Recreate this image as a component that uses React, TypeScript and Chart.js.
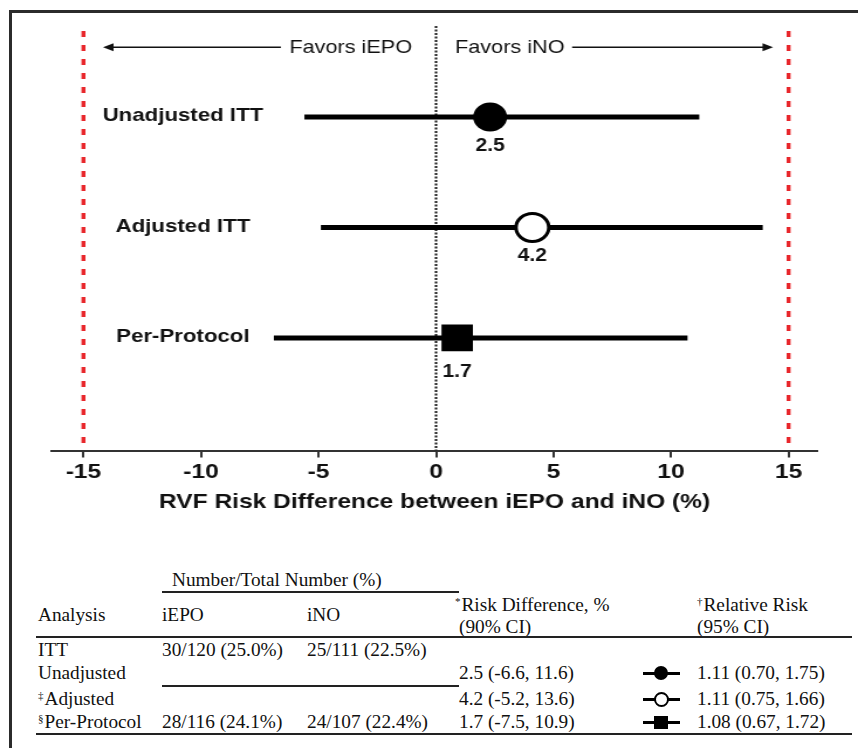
import React, { useEffect, useRef } from "react";
import { Chart, registerables } from "chart.js";

Chart.register(...registerables);

// ---------- chart data ----------
const rowLabels = ["Unadjusted ITT", "Adjusted ITT", "Per-Protocol"];
const rowPositions = [1, 2, 3];
const pointEstimates = [2.3, 4.1, 0.9];
const ciLower = [-5.6, -4.9, -6.9];
const ciUpper = [11.2, 13.9, 10.7];
const estimateLabels = ["2.5", "4.2", "1.7"];
const xTicks = [-15, -10, -5, 0, 5, 10, 15];
const marginLines = [-15, 15];
const nullLine = 0;
const favorsLeft = "Favors iEPO";
const favorsRight = "Favors iNO";
const xTitle = "RVF Risk Difference between iEPO and iNO (%)";

// ---------- table data ----------
const tableGroupHeader = "Number/Total Number (%)";
const tableHeaders = ["Analysis", "iEPO", "iNO"];
const riskDiffHeader = ["Risk Difference, %", "(90% CI)"];
const relRiskHeader = ["Relative Risk", "(95% CI)"];
const analysisNames = ["ITT", "Unadjusted", "Adjusted", "Per-Protocol"];
const analysisMarks = ["", "", "\u2021", "\u00a7"];
const iepoCounts = ["30/120 (25.0%)", "", "", "28/116 (24.1%)"];
const inoCounts = ["25/111 (22.5%)", "", "", "24/107 (22.4%)"];
const riskDiffText = ["", "2.5 (-6.6, 11.6)", "4.2 (-5.2, 13.6)", "1.7 (-7.5, 10.9)"];
const relRiskText = ["", "1.11 (0.70, 1.75)", "1.11 (0.75, 1.66)", "1.08 (0.67, 1.72)"];
const relRiskMarkers = ["", "filled-circle", "open-circle", "filled-square"];

// ---------- styling ----------
const SANS = "'Liberation Sans', Arial, Helvetica, sans-serif";
const SERIF = "'Liberation Serif', 'Times New Roman', Times, serif";
const INNER_W = 733;
const INNER_H = 540;
const STRETCH = 858 / INNER_W;

const markerStyles = [
  { pointStyle: "circle", radius: 14.5, bg: "#000", border: "#000", bw: 0 },
  { pointStyle: "circle", radius: 14, bg: "#fff", border: "#000", bw: 3 },
  { pointStyle: "rect", radius: 19, bg: "#000", border: "#000", bw: 0 },
];
const labelOffsets = [29.5, 29, 33.7];

const overlayPlugin = {
  id: "forestOverlay",
  afterDatasetsDraw(chart: any) {
    const { ctx } = chart;
    const x = chart.scales.x;
    const y = chart.scales.y;
    ctx.save();
    ctx.fillStyle = "#111";
    ctx.strokeStyle = "#111";
    ctx.textBaseline = "middle";

    // row labels
    ctx.textAlign = "center";
    ctx.font = `bold 19px ${SANS}`;
    rowLabels.forEach((l, i) => {
      ctx.fillText(l, x.getPixelForValue(-10.77), y.getPixelForValue(rowPositions[i]) - 1);
    });

    // estimate labels
    ctx.font = `bold 18px ${SANS}`;
    estimateLabels.forEach((l, i) => {
      ctx.fillText(
        l,
        x.getPixelForValue(pointEstimates[i]),
        y.getPixelForValue(rowPositions[i]) + labelOffsets[i]
      );
    });

    // favors text + arrows
    const ay = 47.3;
    ctx.font = `18.5px ${SANS}`;
    ctx.textAlign = "right";
    ctx.fillText(favorsLeft, x.getPixelForValue(-1.02), ay + 1);
    ctx.textAlign = "left";
    ctx.fillText(favorsRight, x.getPixelForValue(0.81), ay + 1);

    ctx.lineWidth = 1.6;
    const drawArrow = (from: number, to: number) => {
      const x1 = x.getPixelForValue(from);
      const x2 = x.getPixelForValue(to);
      const dir = Math.sign(x2 - x1);
      ctx.beginPath();
      ctx.moveTo(x1, ay);
      ctx.lineTo(x2 - dir * 6, ay);
      ctx.stroke();
      ctx.beginPath();
      ctx.moveTo(x2, ay);
      ctx.lineTo(x2 - dir * 9, ay - 4);
      ctx.lineTo(x2 - dir * 9, ay + 4);
      ctx.closePath();
      ctx.fill();
    };
    drawArrow(-6.6, -14.17);
    drawArrow(5.79, 14.34);
    ctx.restore();
  },
};

function ForestChart() {
  const ref = useRef<HTMLCanvasElement | null>(null);
  useEffect(() => {
    if (!ref.current) return;
    const yMin = 0.176;
    const yMax = 4.02;
    const datasets: any[] = [];
    rowPositions.forEach((r, i) => {
      const s = markerStyles[i];
      datasets.push({
        data: [{ x: pointEstimates[i], y: r }],
        pointStyle: s.pointStyle,
        pointRadius: s.radius,
        pointBackgroundColor: s.bg,
        pointBorderColor: s.border,
        pointBorderWidth: s.bw,
        showLine: false,
        order: 0,
      });
    });
    rowPositions.forEach((r, i) => {
      datasets.push({
        data: [
          { x: ciLower[i], y: r },
          { x: ciUpper[i], y: r },
        ],
        showLine: true,
        borderColor: "#000",
        borderWidth: 5,
        pointRadius: 0,
        order: 1,
      });
    });
    marginLines.forEach((m) => {
      datasets.push({
        data: [
          { x: m, y: 0.222 },
          { x: m, y: yMax },
        ],
        showLine: true,
        borderColor: "#e8262b",
        borderWidth: 3.4,
        borderDash: [6, 8],
        pointRadius: 0,
        order: 2,
      });
    });
    datasets.push({
      data: [
        { x: nullLine, y: yMin },
        { x: nullLine, y: yMax },
      ],
      showLine: true,
      borderColor: "#111",
      borderWidth: 2,
      borderDash: [2, 1.5],
      pointRadius: 0,
      order: 2,
    });

    const chart = new Chart(ref.current, {
      type: "scatter",
      data: { datasets },
      options: {
        responsive: false,
        animation: false,
        events: [],
        layout: { padding: { left: 44.4, right: 35, top: 26, bottom: 21 } },
        plugins: {
          legend: { display: false },
          tooltip: { enabled: false },
          title: { display: false },
        },
        scales: {
          x: {
            type: "linear",
            min: -16.34,
            max: 16.21,
            afterBuildTicks: (scale: any) => {
              scale.ticks = xTicks.map((v) => ({ value: v }));
            },
            grid: {
              display: true,
              drawOnChartArea: false,
              drawTicks: true,
              tickLength: 7,
              color: "#333",
              lineWidth: 2,
            },
            border: { display: true, color: "#333", width: 2 },
            ticks: {
              color: "#111",
              font: { family: SANS, size: 21, weight: "bold" },
              padding: 2,
              autoSkip: false,
              maxRotation: 0,
            },
            title: {
              display: true,
              text: xTitle,
              color: "#111",
              font: { family: SANS, size: 21, weight: "bold" },
              padding: { top: 3, bottom: 4 },
            },
          },
          y: { type: "linear", display: false, min: yMin, max: yMax, reverse: true },
        },
      } as any,
      plugins: [overlayPlugin],
    });
    return () => chart.destroy();
  }, []);
  return (
    <div
      style={{
        position: "absolute",
        left: 0,
        top: 0,
        width: INNER_W,
        height: INNER_H,
        transform: `scaleX(${STRETCH})`,
        transformOrigin: "0 0",
      }}
    >
      <canvas
        ref={ref}
        width={INNER_W}
        height={INNER_H}
        style={{ width: INNER_W, height: INNER_H, display: "block" }}
      />
    </div>
  );
}

function Txt({ x, cy, children, size = 19.3 }: any) {
  return (
    <div
      style={{
        position: "absolute",
        left: x,
        top: cy - 11,
        lineHeight: "22px",
        fontSize: size,
        fontFamily: SERIF,
        color: "#111",
        whiteSpace: "nowrap",
      }}
    >
      {children}
    </div>
  );
}

function HLine({ x1, x2, y, w = 1.5 }: any) {
  return (
    <div
      style={{
        position: "absolute",
        left: x1,
        top: y - w / 2,
        width: x2 - x1,
        height: w,
        background: "#222",
      }}
    />
  );
}

function Marker({ kind, cy }: any) {
  const cx = 661;
  let shape: any = null;
  if (kind === "filled-circle") {
    shape = (
      <div style={{ position: "absolute", left: cx - 7, top: cy - 7, width: 14, height: 14, borderRadius: 7, background: "#000" }} />
    );
  } else if (kind === "open-circle") {
    shape = (
      <div style={{ position: "absolute", left: cx - 7.5, top: cy - 7.5, width: 11, height: 11, borderRadius: 8, background: "#fff", border: "2px solid #000" }} />
    );
  } else if (kind === "filled-square") {
    shape = <div style={{ position: "absolute", left: cx - 7, top: cy - 6.5, width: 14, height: 13, background: "#000" }} />;
  }
  return (
    <>
      <div style={{ position: "absolute", left: 643, top: cy - 1.5, width: 37, height: 3, background: "#000" }} />
      {shape}
    </>
  );
}

const supStyle: any = { fontSize: 11, verticalAlign: "top", lineHeight: "14px", marginRight: 1 };

function SummaryTable() {
  const rowY = [650, 673, 699, 722];
  return (
    <>
      <Txt x={172} cy={580}>{tableGroupHeader}</Txt>
      <HLine x1={162} x2={459} y={592} />
      <Txt x={38} cy={615}>{tableHeaders[0]}</Txt>
      <Txt x={162} cy={615}>{tableHeaders[1]}</Txt>
      <Txt x={307} cy={615}>{tableHeaders[2]}</Txt>
      <Txt x={455} cy={605}>
        <span style={supStyle}>*</span>
        {riskDiffHeader[0]}
      </Txt>
      <Txt x={459} cy={627}>{riskDiffHeader[1]}</Txt>
      <Txt x={697} cy={605}>
        <span style={supStyle}>{"\u2020"}</span>
        {relRiskHeader[0]}
      </Txt>
      <Txt x={697} cy={627}>{relRiskHeader[1]}</Txt>
      <HLine x1={36} x2={852} y={637} />
      {analysisNames.map((n, i) => (
        <React.Fragment key={n}>
          <Txt x={38} cy={rowY[i]}>
            {analysisMarks[i] ? <span style={supStyle}>{analysisMarks[i]}</span> : null}
            {n}
          </Txt>
          {iepoCounts[i] ? <Txt x={162} cy={rowY[i]}>{iepoCounts[i]}</Txt> : null}
          {inoCounts[i] ? <Txt x={307} cy={rowY[i]}>{inoCounts[i]}</Txt> : null}
          {riskDiffText[i] ? <Txt x={459} cy={rowY[i]}>{riskDiffText[i]}</Txt> : null}
          {relRiskText[i] ? <Txt x={697} cy={rowY[i]}>{relRiskText[i]}</Txt> : null}
          {relRiskMarkers[i] ? <Marker kind={relRiskMarkers[i]} cy={rowY[i]} /> : null}
        </React.Fragment>
      ))}
      <HLine x1={162} x2={459} y={686} />
      <HLine x1={36} x2={852} y={734} />
    </>
  );
}

export default function App() {
  return (
    <div
      style={{
        position: "absolute",
        left: 0,
        top: 0,
        width: 858,
        height: 748,
        overflow: "hidden",
        background: "#fff",
      }}
    >
      <ForestChart />
      <SummaryTable />
      <div
        style={{
          position: "absolute",
          left: 9,
          top: 10,
          right: 0,
          bottom: 0,
          borderTop: "3px solid #2b2b2b",
          borderLeft: "3px solid #2b2b2b",
          pointerEvents: "none",
        }}
      />
    </div>
  );
}
